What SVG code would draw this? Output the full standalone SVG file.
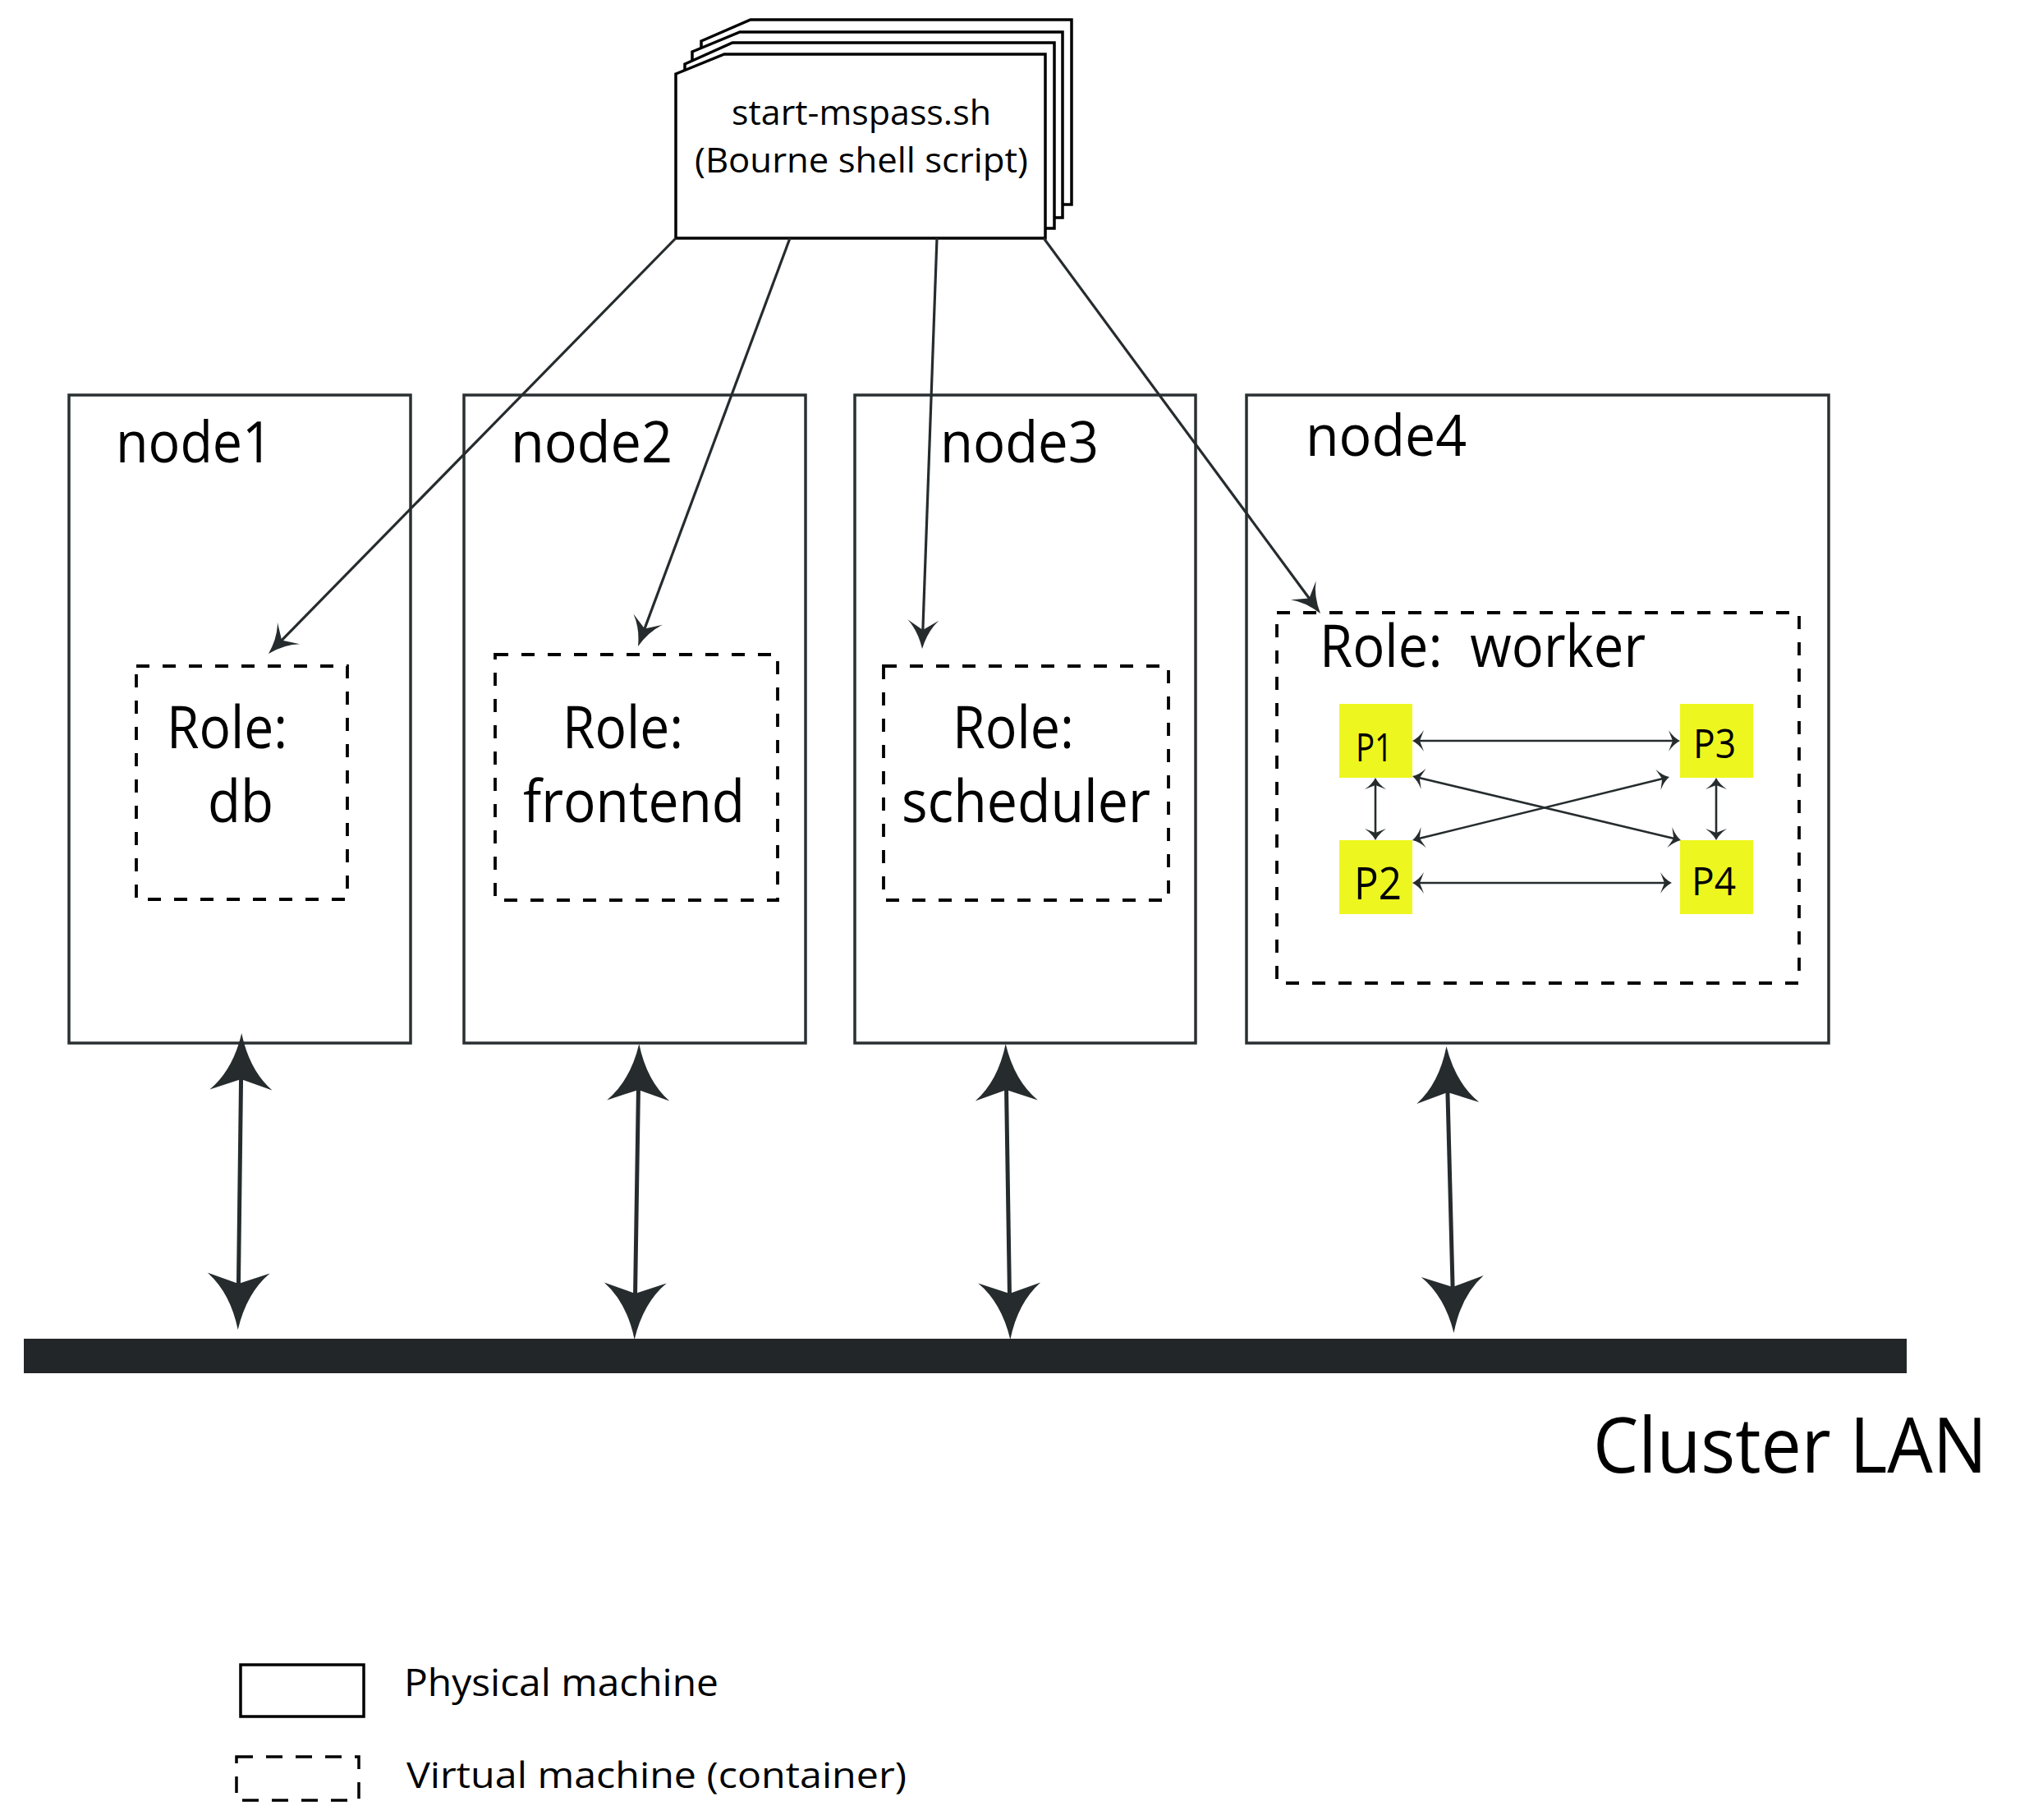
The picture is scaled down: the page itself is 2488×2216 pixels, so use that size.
<svg xmlns="http://www.w3.org/2000/svg" width="2488" height="2216" viewBox="0 0 2488 2216">
<style>
.bg{fill:#fff}
.node{fill:#fff;stroke:#2a3032;stroke-width:3.5}
.vm{fill:none;stroke:#000;stroke-width:3.8;stroke-dasharray:16 16}
.page{fill:#fff;stroke:#000;stroke-width:3.5;stroke-linejoin:miter}
.t{font-family:"Open Sans","Liberation Sans",sans-serif;fill:#000}
.lbl{font-size:70px}
.role{font-size:72px}
.conn{stroke:#262c2e;fill:none}
.thin{stroke-width:3.2;marker-end:url(#ah)}
.big{stroke-width:5;marker-start:url(#bh);marker-end:url(#bh)}
.p{fill:#edf71f}
.pl{stroke-width:2.6;marker-start:url(#sh);marker-end:url(#sh)}
.hd{fill:#262c2e}
</style>
<defs>
<marker id="ah" markerUnits="userSpaceOnUse" orient="auto-start-reverse" viewBox="-50 -50 100 100" markerWidth="100" markerHeight="100" refX="-10" refY="0" overflow="visible">
<path class="hd" d="M0,0 Q-22,-6 -35,-19 L-23,0 L-35,19 Q-22,6 0,0 Z"/>
</marker>
<marker id="bh" markerUnits="userSpaceOnUse" orient="auto-start-reverse" viewBox="-90 -90 180 180" markerWidth="180" markerHeight="180" refX="-20" refY="0" overflow="visible">
<path class="hd" d="M0,0 Q-45,-10 -69,-38 L-56,0 L-69,38 Q-45,10 0,0 Z"/>
</marker>
<marker id="sh" markerUnits="userSpaceOnUse" orient="auto-start-reverse" viewBox="-25 -25 50 50" markerWidth="50" markerHeight="50" refX="-5" refY="0" overflow="visible">
<path class="hd" d="M0,0 Q-8,-4 -14,-13 L-9,0 L-14,13 Q-8,4 0,0 Z"/>
</marker>
</defs>
<rect class="bg" x="0" y="0" width="2488" height="2216"/>

<g id="node1">
<rect class="node" x="84" y="481" width="416" height="789"/>
<text class="t lbl" x="141" y="563" textLength="191" lengthAdjust="spacingAndGlyphs">node1</text>
<g id="vm-db">
<rect class="vm" x="166" y="811" width="257" height="284"/>
<text class="t role" x="203" y="911" textLength="147" lengthAdjust="spacingAndGlyphs">Role:</text>
<text class="t role" x="253" y="1001" textLength="80" lengthAdjust="spacingAndGlyphs">db</text>
</g>
</g>

<g id="node2">
<rect class="node" x="565" y="481" width="416" height="789"/>
<text class="t lbl" x="622" y="563" textLength="197" lengthAdjust="spacingAndGlyphs">node2</text>
<g id="vm-frontend">
<rect class="vm" x="603" y="797" width="344" height="299"/>
<text class="t role" x="685" y="911" textLength="147" lengthAdjust="spacingAndGlyphs">Role:</text>
<text class="t role" x="637" y="1001" textLength="270" lengthAdjust="spacingAndGlyphs">frontend</text>
</g>
</g>

<g id="node3">
<rect class="node" x="1041" y="481" width="415" height="789"/>
<text class="t lbl" x="1145" y="563" textLength="193" lengthAdjust="spacingAndGlyphs">node3</text>
<g id="vm-scheduler">
<rect class="vm" x="1076" y="811" width="347" height="285"/>
<text class="t role" x="1160" y="911" textLength="148" lengthAdjust="spacingAndGlyphs">Role:</text>
<text class="t role" x="1098" y="1001" textLength="303" lengthAdjust="spacingAndGlyphs">scheduler</text>
</g>
</g>

<g id="node4">
<rect class="node" x="1518" y="481" width="709" height="789"/>
<text class="t lbl" x="1590" y="555" textLength="196" lengthAdjust="spacingAndGlyphs">node4</text>
<g id="vm-worker">
<rect class="vm" x="1555" y="746" width="636" height="451"/>
<text class="t role" x="1607" y="812" textLength="397" lengthAdjust="spacingAndGlyphs" style="white-space:pre">Role:  worker</text>
<g id="P1"><rect class="p" x="1631" y="857" width="89" height="90"/><text class="t" font-size="48" x="1651" y="927" textLength="45" lengthAdjust="spacingAndGlyphs">P1</text></g>
<g id="P2"><rect class="p" x="1631" y="1023" width="89" height="90"/><text class="t" font-size="55" x="1649" y="1095" textLength="58" lengthAdjust="spacingAndGlyphs">P2</text></g>
<g id="P3"><rect class="p" x="2046" y="857" width="89" height="90"/><text class="t" font-size="50" x="2062" y="923" textLength="52" lengthAdjust="spacingAndGlyphs">P3</text></g>
<g id="P4"><rect class="p" x="2046" y="1023" width="89" height="90"/><text class="t" font-size="48" x="2060" y="1090" textLength="54" lengthAdjust="spacingAndGlyphs">P4</text></g>
</g>
</g>

<g id="script">
<polygon class="page" points="854,50 914,24 1305,24 1305,249 854,249"/>
<polygon class="page" points="843,63 901,39 1294,39 1294,265 843,265"/>
<polygon class="page" points="834,78 892,52 1284,52 1284,278 834,278"/>
<polygon class="page" points="823,90 882,66 1273,66 1273,290 823,290"/>
<text class="t" font-size="42" x="1049" y="152" text-anchor="middle" textLength="316" lengthAdjust="spacingAndGlyphs">start-mspass.sh</text>
<text class="t" font-size="42" x="1049" y="210" text-anchor="middle" textLength="406" lengthAdjust="spacingAndGlyphs">(Bourne shell script)</text>
</g>

<g id="lan">
<rect x="29" y="1630" width="2293" height="42" fill="#222628"/>
<text class="t" font-size="94" x="1940" y="1793" textLength="480" lengthAdjust="spacingAndGlyphs">Cluster LAN</text>
</g>

<g id="connectors">
<line class="conn thin" x1="823" y1="290" x2="334" y2="788.9"/>
<line class="conn thin" x1="962" y1="290" x2="780.5" y2="777.6"/>
<line class="conn thin" x1="1141" y1="290" x2="1123.4" y2="780"/>
<line class="conn thin" x1="1271" y1="290" x2="1602.1" y2="739"/>
<line class="conn big" x1="294" y1="1278" x2="290" y2="1599"/>
<line class="conn big" x1="778" y1="1291" x2="773" y2="1611"/>
<line class="conn big" x1="1225" y1="1291" x2="1230" y2="1611"/>
<line class="conn big" x1="1762" y1="1294" x2="1770" y2="1603"/>
<line class="conn pl" x1="1725" y1="902" x2="2041" y2="902"/>
<line class="conn pl" x1="1725" y1="1075" x2="2031" y2="1075"/>
<line class="conn pl" x1="1675" y1="952" x2="1675" y2="1018"/>
<line class="conn pl" x1="2090" y1="952" x2="2090" y2="1018"/>
<line class="conn pl" x1="1724.9" y1="946.2" x2="2042.1" y2="1021.8"/>
<line class="conn pl" x1="1724.9" y1="1021.8" x2="2028.1" y2="947.2"/>
</g>

<g id="legend">
<rect x="293" y="2027" width="150" height="63" fill="#fff" stroke="#000" stroke-width="3.5"/>
<text class="t" font-size="46" x="492" y="2065" textLength="383" lengthAdjust="spacingAndGlyphs">Physical machine</text>
<rect x="288" y="2139" width="149" height="53" fill="none" stroke="#000" stroke-width="3.5" stroke-dasharray="20 16"/>
<text class="t" font-size="44" x="495" y="2177" textLength="609" lengthAdjust="spacingAndGlyphs">Virtual machine (container)</text>
</g>
</svg>
